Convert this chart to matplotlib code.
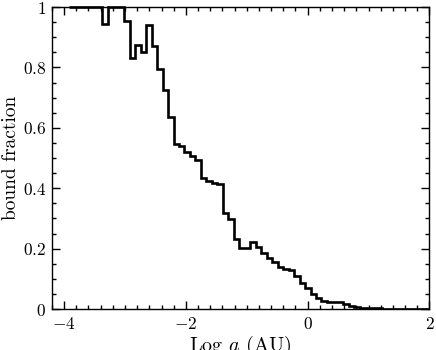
import numpy as np
import matplotlib
matplotlib.use("Agg")
import matplotlib.pyplot as plt
from matplotlib.patches import Rectangle

# Histogram of bound fraction vs log semi-major axis
bin_start = -3.913
bin_width = 0.09
bound_fraction = [
    1.0, 1.0, 1.0, 1.0, 1.0, 1.0, 0.945, 1.0, 1.0, 1.0,
    0.955, 0.830, 0.874, 0.852, 0.940, 0.871, 0.795, 0.725, 0.635, 0.546,
    0.540, 0.521, 0.508, 0.493, 0.433, 0.425, 0.418, 0.414, 0.319, 0.297,
    0.231, 0.201, 0.201, 0.223, 0.206, 0.184, 0.168, 0.155, 0.140, 0.133,
    0.128, 0.109, 0.087, 0.069, 0.049, 0.037, 0.027, 0.022, 0.022, 0.022,
    0.016, 0.010, 0.006, 0.004, 0.003, 0.002, 0.002, 0.001, 0.001, 0.0,
    0.0, 0.0, 0.0, 0.0, 0.0, 0.0,
]
xticks = [-4, -2, 0, 2]
yticks = [0, 0.2, 0.4, 0.6, 0.8, 1.0]
yticklabels = ["0", "0.2", "0.4", "0.6", "0.8", "1"]

plt.rcParams["mathtext.fontset"] = "cm"
plt.rcParams["font.family"] = "serif"
plt.rcParams["font.serif"] = ["cmr10", "DejaVu Serif"]
plt.rcParams["axes.formatter.use_mathtext"] = True
plt.rcParams["axes.unicode_minus"] = True

fig = plt.figure(figsize=(4.36, 3.5), dpi=100)
ax = fig.add_axes([0.119, 0.117, 0.866, 0.863])

edges = bin_start + bin_width * np.arange(len(bound_fraction) + 1)
st = ax.stairs(bound_fraction, edges, baseline=None, color="black", linewidth=1.9)
clip = Rectangle((0, 0), 1, 1.03, transform=ax.transAxes, facecolor="none", edgecolor="none")
st.set_clip_path(clip)

ax.set_xlim(-4.2, 2)
ax.set_ylim(0, 1)
ax.set_xticks(xticks)
ax.set_xticklabels([f"${t}$" if t >= 0 else f"$-{abs(t)}$" for t in xticks])
ax.set_yticks(yticks)
ax.set_yticklabels([f"${l}$" for l in yticklabels])
ax.set_xticks(np.arange(-4.2, 2.01, 0.2), minor=True)
ax.set_yticks(np.arange(0, 1.001, 0.05), minor=True)

ax.tick_params(which="both", direction="in", top=True, right=True, width=1.0, labelsize=12.5, colors="black")
ax.tick_params(which="major", length=6)
ax.tick_params(which="minor", length=3)
ax.tick_params(axis="x", pad=5)
ax.tick_params(axis="y", pad=4)
for s in ax.spines.values():
    s.set_linewidth(1.0)

ax.set_xlabel(r"Log $a$ (AU)", fontsize=14.5, labelpad=1)
ax.set_ylabel("bound fraction", fontsize=14, labelpad=2)

fig.savefig("out.png", dpi=100)
